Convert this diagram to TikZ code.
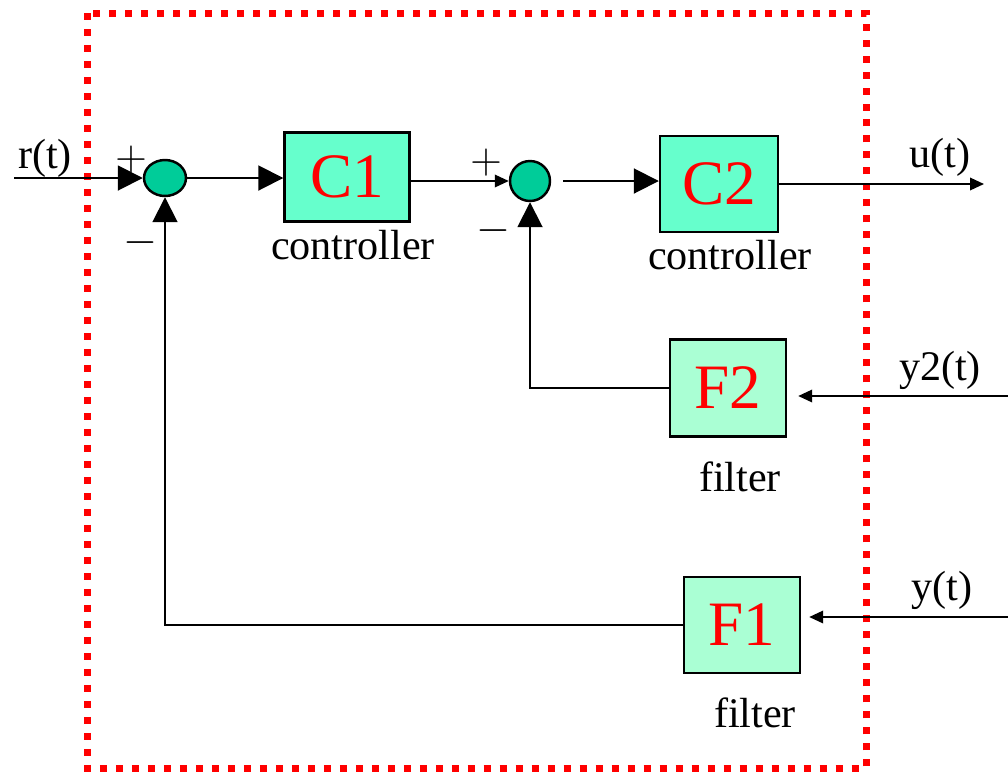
\documentclass[tikz,border=0pt]{standalone}
\usepackage{fontspec}
\setmainfont{Liberation Serif}
\usetikzlibrary{arrows.meta,shapes.geometric}
\definecolor{ctrlgreen}{HTML}{66FFCC}
\definecolor{filtgreen}{HTML}{AAFFD4}
\definecolor{sumgreen}{HTML}{00CC99}
\definecolor{framered}{HTML}{FF0000}

\begin{document}
\begin{tikzpicture}[x=0.02cm, y=-0.02cm, line width=1.1pt,
    lbl/.style={font=\fontsize{24}{28}\selectfont, inner sep=0pt},
    blk/.style={draw, line width=1.4pt, font=\fontsize{36}{40}\selectfont, text=red},
    ctrl/.style={blk, fill=ctrlgreen},
    filt/.style={blk, fill=filtgreen},
    sumpt/.style={draw, line width=1.4pt, fill=sumgreen, inner sep=0pt},
    bigarr/.style={-{Triangle[length=0.5cm, width=0.5cm]}},
    smallarr/.style={-{Triangle[length=0.28cm, width=0.25cm]}},
    frame/.style={draw=framered, line width=0.14cm, dash pattern=on 0.14cm off 0.18cm}]
    \useasboundingbox (0,0) rectangle (1008,775);
    % enclosing box
    \draw[frame] (87,13) rectangle (866,768);
    % blocks
    \node[sumpt, ellipse, minimum width=0.84cm, minimum height=0.72cm] (s1) at (165,178) {};
    \node[sumpt, circle, minimum size=0.8cm] (s2) at (530,181) {};
    \node[ctrl, minimum width=2.5cm, minimum height=1.78cm]  (c1) at (347,177) {C1};
    \node[ctrl, minimum width=2.36cm, minimum height=1.92cm] (c2) at (719,184) {C2};
    \node[filt, minimum width=2.32cm, minimum height=1.94cm] (f2) at (728,388) {F2};
    \node[filt, minimum width=2.32cm, minimum height=1.92cm] (f1) at (742,625) {F1};
    % free ends
    \coordinate (rin)  at (14,178);
    \coordinate (uout) at (984,184);
    \coordinate (y2in) at (1008,396);
    \coordinate (yin)  at (1008,617);
    % labels
    \node[lbl] (rl)  at (45,158)  {r(t)};
    \node[lbl] (ul)  at (940,157) {u(t)};
    \node[lbl] (y2l) at (940,370) {y2(t)};
    \node[lbl] (yl)  at (942,590) {y(t)};
    \node[lbl] (c1l) at (353,245) {controller};
    \node[lbl] (c2l) at (730,255) {controller};
    \node[lbl] (f2l) at (740,477) {filter};
    \node[lbl] (f1l) at (755,713) {filter};
    \node[lbl] (p1) at (131,160) {$+$};
    \node[lbl] (m1) at (140,243) {$-$};
    \node[lbl] (p2) at (486,163) {$+$};
    \node[lbl] (m2) at (493,231) {$-$};
    % signal paths
    \draw[bigarr]   (rin) -- (s1.west);
    \draw[bigarr]   (s1.east) -- (c1.west |- s1.east);
    \draw[smallarr] (c1.east |- s2.west) -- (s2.west);
    \draw[bigarr, shorten <=12*0.02cm] (s2.east) -- (c2.west |- s2.east);
    \draw[smallarr] (c2.east) -- (uout);
    \draw[smallarr, shorten >=0.22cm] (y2in) -- (f2.east |- y2in);
    \draw[smallarr, shorten >=0.16cm] (yin) -- (f1.east |- yin);
    \draw[bigarr]   (f2.west) -| (s2.south);
    \draw[bigarr]   (f1.west) -| (s1.south);
  \end{tikzpicture}
\end{document}
